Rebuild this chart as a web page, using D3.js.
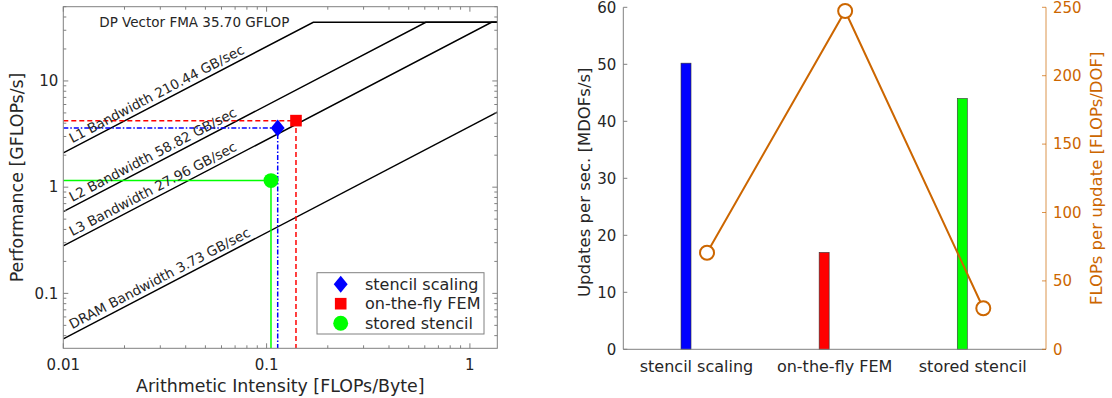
<!DOCTYPE html>
<html>
<head>
<meta charset="utf-8">
<script src="https://cdn.jsdelivr.net/npm/d3@7"></script>
<style>
  body { margin: 0; background: #fff; }
  text { font-family: "DejaVu Sans", sans-serif; fill: #262626; }
</style>
</head>
<body>
<div id="chart"></div>
<script>
// roofline ceilings
const ceilingNames = ['L1 Bandwidth 210.44 GB/sec', 'L2 Bandwidth 58.82 GB/sec', 'L3 Bandwidth 27.96 GB/sec', 'DRAM Bandwidth 3.73 GB/sec'];
const bandwidths = [210.44, 58.82, 27.96, 3.73];
const peakGflops = 35.70;
const peakLabel = 'DP Vector FMA 35.70 GFLOP';

// kernels
const kernels = ['stencil scaling', 'on-the-fly FEM', 'stored stencil'];
const intensity = [0.1134, 0.1395, 0.1051];
const performance = [3.61, 4.23, 1.153];
const updatesPerSec = [50.2, 17.0, 44.0];
const flopsPerUpdate = [70.6, 247.3, 30.0];

const xTickVals = [0.01, 0.1, 1];
const yTickVals = [0.1, 1, 10];
const leftTicks = [0, 10, 20, 30, 40, 50, 60];
const rightTicks = [0, 50, 100, 150, 200, 250];

const kernelColors = ['#0000ff', '#ff0000', '#00ff00'];
const kernelDash = ['5,2,1.5,2', '5,3', null];
const orange = '#cc6600';
const axisGray = '#808080';

const W = 1112, H = 398;
const svg = d3.select('#chart').append('svg')
    .attr('width', W).attr('height', H);

// ---------- left: roofline ----------
const L = {left: 63.3, right: 497.3, top: 6.7, bottom: 348.3};

const x = d3.scaleLog().domain([0.01, 1.364]).range([L.left, L.right]);
const y = d3.scaleLog().domain([0.0304, 50]).range([L.bottom, L.top]);

const g1 = svg.append('g');

g1.append('clipPath').attr('id', 'clipL')
  .append('rect')
    .attr('x', L.left).attr('y', L.top)
    .attr('width', L.right - L.left).attr('height', L.bottom - L.top);

const plot = g1.append('g').attr('clip-path', 'url(#clipL)');

const xd = x.domain();
const line = d3.line().x(d => x(d[0])).y(d => y(d[1]));

bandwidths.forEach(function(bw) {
    let knee = peakGflops / bw;
    let pts = [[xd[0], bw * xd[0]]];
    if (knee < xd[1]) {
        pts.push([knee, peakGflops]);
        pts.push([xd[1], peakGflops]);
    } else {
        pts.push([xd[1], bw * xd[1]]);
    }
    plot.append('path')
        .attr('d', line(pts))
        .attr('fill', 'none')
        .attr('stroke', '#000')
        .attr('stroke-width', 1.5);
});

// angle of ceilings on screen
const ang = Math.atan2(y(1) - y(10), x(1) - x(0.1)) * 180 / Math.PI;

bandwidths.forEach(function(bw, i) {
    let px = x(xd[0]) + 9;
    let py = y(bw * x.invert(px)) - 5;
    g1.append('text')
        .attr('transform', `translate(${px},${py}) rotate(${-ang})`)
        .attr('font-size', 13.5)
        .text(ceilingNames[i]);
});

g1.append('text')
    .attr('x', x(xd[0]) + 36)
    .attr('y', y(peakGflops))
    .attr('dy', '0.35em')
    .attr('font-size', 13.5)
    .text(peakLabel);

// guide lines to axes
kernels.forEach(function(k, i) {
    let px = x(intensity[i]), py = y(performance[i]);
    plot.append('path')
        .attr('d', `M${L.left},${py}H${px}V${L.bottom}`)
        .attr('fill', 'none')
        .attr('stroke', kernelColors[i])
        .attr('stroke-width', 1.5)
        .attr('stroke-dasharray', kernelDash[i]);
});

// markers
const diamond = {
    draw(ctx, size) {
        let h = Math.sqrt(size) * 0.6, w = h * 0.82;
        ctx.moveTo(0, -h); ctx.lineTo(w, 0); ctx.lineTo(0, h); ctx.lineTo(-w, 0); ctx.closePath();
    }
};
const markerTypes = [diamond, d3.symbolSquare, d3.symbolCircle];
const markerSizes = [200, 135, 175];

kernels.forEach(function(k, i) {
    g1.append('path')
        .attr('transform', `translate(${x(intensity[i])},${y(performance[i])})`)
        .attr('d', d3.symbol(markerTypes[i], markerSizes[i])())
        .attr('fill', kernelColors[i]);
});

// box + ticks
g1.append('rect')
    .attr('x', L.left).attr('y', L.top)
    .attr('width', L.right - L.left).attr('height', L.bottom - L.top)
    .attr('fill', 'none').attr('stroke', axisGray).attr('stroke-width', 1);

const xMinor = x.ticks().filter(t => xTickVals.indexOf(t) < 0);
const yMinor = y.ticks().filter(t => yTickVals.indexOf(t) < 0);

function ticksX(vals, len) {
    vals.forEach(function(t) {
        let px = x(t);
        g1.append('path').attr('d', `M${px},${L.bottom}v${-len}M${px},${L.top}v${len}`)
            .attr('stroke', axisGray).attr('stroke-width', 1);
    });
}
function ticksY(vals, len) {
    vals.forEach(function(t) {
        let py = y(t);
        g1.append('path').attr('d', `M${L.left},${py}h${len}M${L.right},${py}h${-len}`)
            .attr('stroke', axisGray).attr('stroke-width', 1);
    });
}
ticksX(xTickVals, 5); ticksX(xMinor, 3);
ticksY(yTickVals, 5); ticksY(yMinor, 3);

xTickVals.forEach(function(t) {
    g1.append('text').attr('x', x(t)).attr('y', L.bottom + 22)
        .attr('text-anchor', 'middle').attr('font-size', 15).text(t);
});
yTickVals.forEach(function(t) {
    g1.append('text').attr('x', L.left - 5).attr('y', y(t)).attr('dy', '0.35em')
        .attr('text-anchor', 'end').attr('font-size', 15).text(t);
});

g1.append('text')
    .attr('x', (L.left + L.right) / 2).attr('y', 391.5)
    .attr('text-anchor', 'middle').attr('font-size', 17.4)
    .text('Arithmetic Intensity [FLOPs/Byte]');
g1.append('text')
    .attr('transform', `translate(23,${(L.top + L.bottom) / 2}) rotate(-90)`)
    .attr('text-anchor', 'middle').attr('font-size', 17.4)
    .text('Performance [GFLOPs/s]');

// legend
const leg = g1.append('g').attr('transform', 'translate(317,272.7)');
leg.append('rect').attr('width', 167).attr('height', 61.3)
    .attr('fill', '#fff').attr('stroke', axisGray).attr('stroke-width', 1);
kernels.forEach(function(k, i) {
    let ly = 11.5 + i * 19.5;
    leg.append('path')
        .attr('transform', `translate(23.7,${ly})`)
        .attr('d', d3.symbol(markerTypes[i], markerSizes[i])())
        .attr('fill', kernelColors[i]);
    leg.append('text').attr('x', 48).attr('y', ly).attr('dy', '0.35em')
        .attr('font-size', 16).text(k);
});

// ---------- right: bars + line ----------
const R = {left: 623.3, right: 1046, top: 7.3, bottom: 349.3};

const xc = d3.scalePoint().domain(kernels).range([R.left, R.right]).padding(0.53);
const yl = d3.scaleLinear().domain([0, 60]).range([R.bottom, R.top]);
const yr = d3.scaleLinear().domain([0, 250]).range([R.bottom, R.top]);

const g2 = svg.append('g');
const barW = 10, off = 10.5;

g2.selectAll('rect.bar').data(kernels).join('rect')
    .attr('class', 'bar')
    .attr('x', d => xc(d) - off - barW / 2)
    .attr('y', (d, i) => yl(updatesPerSec[i]))
    .attr('width', barW)
    .attr('height', (d, i) => yl(0) - yl(updatesPerSec[i]))
    .attr('fill', (d, i) => kernelColors[i])
    .attr('stroke', '#333').attr('stroke-width', 0.6);

// axes
g2.append('path').attr('d', `M${R.left},${R.top}V${R.bottom}H${R.right}`)
    .attr('fill', 'none').attr('stroke', axisGray);
g2.append('path').attr('d', `M${R.right},${R.top}V${R.bottom}`)
    .attr('fill', 'none').attr('stroke', orange).attr('opacity', 0.7);

leftTicks.forEach(function(t) {
    g2.append('path').attr('d', `M${R.left},${yl(t)}h4`).attr('stroke', axisGray);
    g2.append('text').attr('x', R.left - 7).attr('y', yl(t)).attr('dy', '0.35em')
        .attr('text-anchor', 'end').attr('font-size', 15).text(t);
});
rightTicks.forEach(function(t) {
    g2.append('path').attr('d', `M${R.right},${yr(t)}h-4`).attr('stroke', orange).attr('opacity', 0.7);
    g2.append('text').attr('x', R.right + 7).attr('y', yr(t)).attr('dy', '0.35em')
        .attr('font-size', 15).style('fill', orange).text(t);
});
kernels.forEach(function(k) {
    g2.append('text').attr('x', xc(k)).attr('y', 371.5)
        .attr('text-anchor', 'middle').attr('font-size', 16).text(k);
});

const fLine = d3.line().x((d, i) => xc(kernels[i]) + off).y(d => yr(d));
g2.append('path').attr('d', fLine(flopsPerUpdate))
    .attr('fill', 'none').attr('stroke', orange).attr('stroke-width', 2);
g2.selectAll('circle.pt').data(flopsPerUpdate).join('circle')
    .attr('class', 'pt')
    .attr('cx', (d, i) => xc(kernels[i]) + off)
    .attr('cy', d => yr(d))
    .attr('r', 7)
    .attr('fill', '#fff').attr('stroke', orange).attr('stroke-width', 2);

g2.append('text')
    .attr('transform', `translate(590,${(R.top + R.bottom) / 2 + 4}) rotate(-90)`)
    .attr('text-anchor', 'middle').attr('font-size', 16.5)
    .text('Updates per sec. [MDOFs/s]');
g2.append('text')
    .attr('transform', `translate(1102,${(R.top + R.bottom) / 2}) rotate(-90)`)
    .attr('text-anchor', 'middle').attr('font-size', 16.5)
    .style('fill', orange)
    .text('FLOPs per update [FLOPs/DOF]');
</script>
</body>
</html>
